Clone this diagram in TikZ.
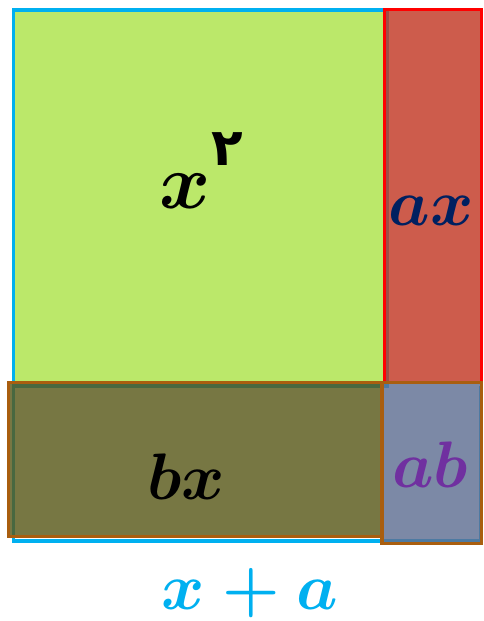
\RequirePackage{fix-cm}
\documentclass[tikz,border=0pt]{standalone}
\usepackage{fontspec}
\newfontfamily\arabicfont[Script=Arabic]{DejaVu Sans}
\definecolor{cblue}{HTML}{00B0F0}
\definecolor{cgreen}{HTML}{BBE86A}
\definecolor{cred}{HTML}{C23824}
\definecolor{credline}{HTML}{FF0000}
\definecolor{colive}{HTML}{59591A}
\definecolor{cbrown}{HTML}{A95E0F}
\definecolor{cslate}{HTML}{5F6F92}
\definecolor{cnavy}{HTML}{002060}
\definecolor{cpurple}{HTML}{7030A0}
\newcommand{\bigtxt}{\fontsize{66}{66}\selectfont\boldmath}
\newcommand{\hugetxt}{\fontsize{78}{78}\selectfont\boldmath}
\tikzset{
  lbl/.style={inner sep=0pt, anchor=base, font=\bigtxt},
  edge3/.style={line width=3.5bp},
  seethru/.style={fill opacity=0.82}
}
\begin{document}
\begin{tikzpicture}[x=1bp,y=-1bp]
\useasboundingbox (0,0) rectangle (484,621);
% big square x^2 with its blue outline
\draw[cblue, edge3, fill=cgreen] (13.5,10) rectangle (387.5,386);
% blue outline of the whole x+a side
\draw[cblue, edge3] (13.5,386) -- (13.5,541) -- (481,541) -- (481,386);
% ax rectangle
\draw[credline, edge3, fill=cred, seethru] (384.5,9.5) rectangle (481.5,382.5);
% bx rectangle
\draw[cbrown, edge3, fill=colive, seethru] (8.5,382.5) rectangle (382,536.5);
% ab rectangle
\draw[cbrown, edge3, fill=cslate, seethru] (382,382.5) rectangle (481.5,543.5);
% labels
\node[lbl, font=\hugetxt] (xsq) at (185,208) {$x$};
\node[inner sep=0pt, font=\fontsize{52}{52}\selectfont\arabicfont\bfseries] (two) at (227,149) {٢};
\node[lbl, text=cnavy] (ax) at (431,225) {$ax$};
\node[lbl, text=cblue] (xa) at (250,609) {$x+a$};
\node[lbl] (bx) at (186,499) {$bx$};
\node[lbl, text=cpurple] (ab) at (430,487) {$ab$};
\end{tikzpicture}
\end{document}
